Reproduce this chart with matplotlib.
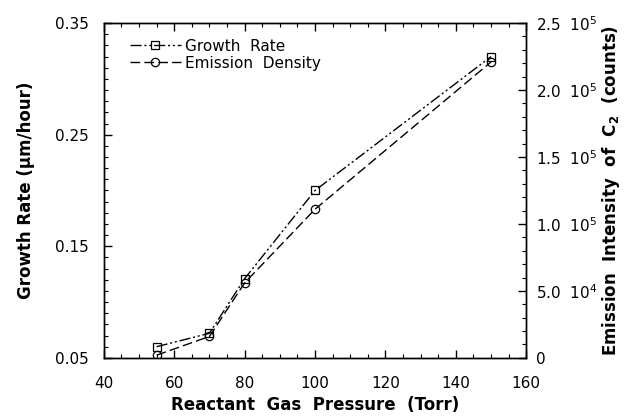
import matplotlib
matplotlib.use("Agg")
import matplotlib.pyplot as plt
from matplotlib.ticker import MultipleLocator, FixedLocator, FuncFormatter

plt.rcParams['font.family'] = ['DejaVu Sans']
plt.rcParams['mathtext.default'] = 'regular'

# 資料
pressure = [55, 70, 80, 100, 150]
growth_rate = [0.060, 0.072, 0.121, 0.200, 0.320]
emission = [2000, 16000, 56000, 111000, 221000]

fig = plt.figure(figsize=(6.41, 4.2), dpi=100)
ax = fig.add_axes([0.162, 0.148, 0.659, 0.797])
ax2 = ax.twinx()

l1, = ax.plot(pressure, growth_rate, color='black', lw=1.0,
              dashes=(8, 2, 1.5, 2, 1.5, 2), marker='s', ms=6,
              mfc='none', mec='black', mew=0.9)
l2, = ax2.plot(pressure, emission, color='black', lw=1.0,
               dashes=(7, 3), marker='o', ms=6,
               mfc='none', mec='black', mew=0.9)

ax.set_xlim(40, 160)
ax.set_ylim(0.05, 0.35)
ax2.set_ylim(0, 2.5e5)

ax.xaxis.set_major_locator(MultipleLocator(20))
ax.xaxis.set_minor_locator(MultipleLocator(5))
ax.yaxis.set_major_locator(FixedLocator([0.05, 0.15, 0.25, 0.35]))
ax.yaxis.set_minor_locator(MultipleLocator(0.01))
ax.yaxis.set_major_formatter(FuncFormatter(lambda v, p: "%.2f" % v))

ax2.yaxis.set_major_locator(MultipleLocator(5e4))
ax2.yaxis.set_minor_locator(MultipleLocator(1e4))
right_labels = {0: '0', 50000: r'5.0  $10^4$', 100000: r'1.0  $10^5$',
                150000: r'1.5  $10^5$', 200000: r'2.0  $10^5$', 250000: r'2.5  $10^5$'}
ax2.yaxis.set_major_formatter(FuncFormatter(lambda v, p: right_labels.get(int(round(v)), '')))

ax.tick_params(axis='both', which='major', direction='in', length=6, width=1,
               labelsize=11, top=True)
ax.tick_params(axis='x', which='major', pad=13)
ax.tick_params(axis='y', which='major', pad=11, right=False)
ax.tick_params(axis='both', which='minor', direction='in', length=3, width=0.8, top=True)
ax2.tick_params(axis='y', which='major', direction='in', length=6, width=1, labelsize=11, pad=7)
ax2.tick_params(axis='y', which='minor', direction='in', length=3, width=0.8)

for a in (ax, ax2):
    for s in a.spines.values():
        s.set_linewidth(1.0)

ax.set_xlabel('Reactant  Gas  Pressure  (Torr)', fontsize=12, fontweight='bold', labelpad=4)
ax.set_ylabel('Growth Rate (\u03bcm/hour)', fontsize=12, fontweight='bold', labelpad=14)
ax2.set_ylabel('Emission  Intensity  of  C$_2$  (counts)', fontsize=12, fontweight='bold',
               rotation=90, labelpad=2)

ax.legend([l1, l2], ['Growth  Rate', 'Emission  Density'], loc='upper left',
          bbox_to_anchor=(0.03, 0.995), frameon=False, fontsize=11,
          handlelength=3.3, handletextpad=0.3, labelspacing=0.15)

plt.savefig('out.png', dpi=100)
plt.close()
